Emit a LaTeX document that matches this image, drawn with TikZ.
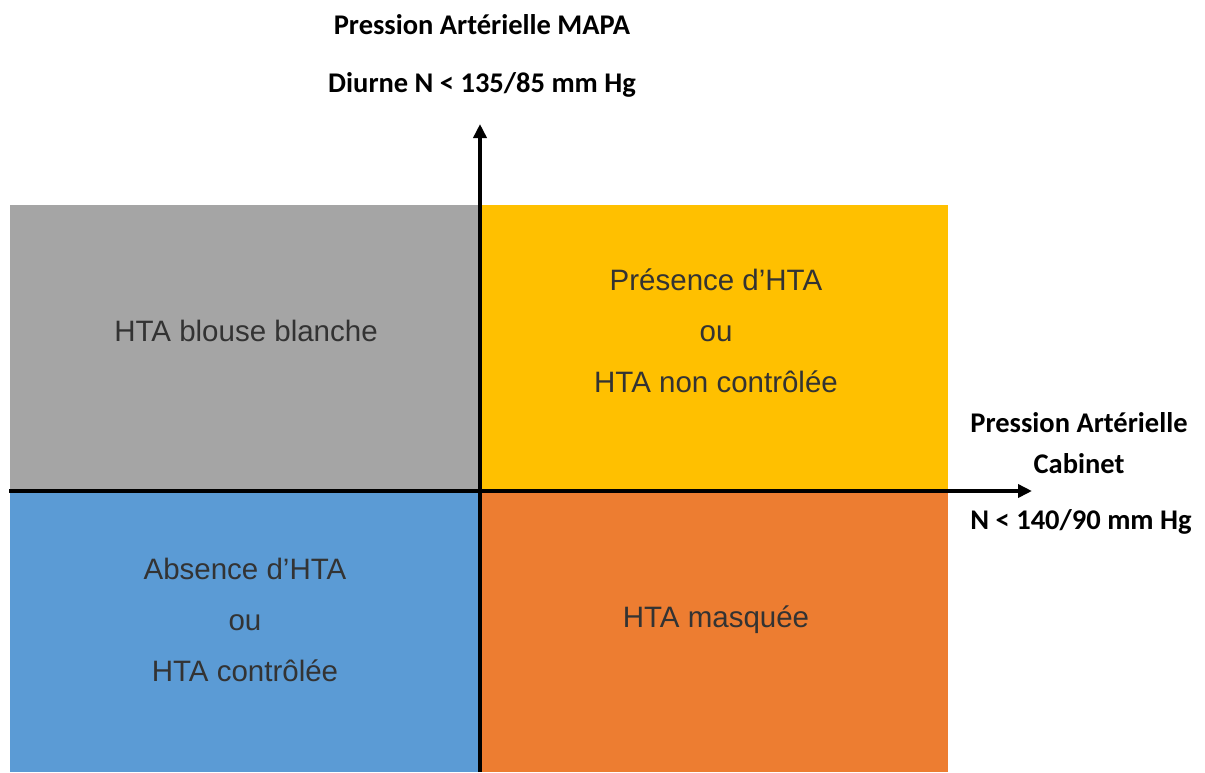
\documentclass[tikz,border=0pt]{standalone}
\usepackage{fontspec}
\setmainfont{Liberation Sans}
\newfontfamily\calibri{Carlito}
\usetikzlibrary{arrows.meta}
\definecolor{grisq}{HTML}{A5A5A5}
\definecolor{jauneq}{HTML}{FFC000}
\definecolor{bleuq}{HTML}{5B9BD5}
\definecolor{orangeq}{HTML}{ED7D31}
\definecolor{texteq}{HTML}{333333}
\tikzset{
  quadtexte/.style={align=center, text=texteq, font=\fontsize{29.5}{51}\selectfont},
  axetexte/.style={align=center, font=\calibri\bfseries\fontsize{28.5}{41}\selectfont},
  axe/.style={line width=3.5pt, -{Triangle[length=14pt,width=13pt]}}
}
\begin{document}
\begin{tikzpicture}[x=1pt,y=-1pt]
    \useasboundingbox (0,0) rectangle (1205,772);
    % Quadrants
    \fill[grisq] (10,205) rectangle (480,491);
    \fill[jauneq] (480,205) rectangle (948,491);
    \fill[bleuq] (10,491) rectangle (480,772);
    \fill[orangeq] (480,491) rectangle (948,772);
    % Textes des quadrants
    \node[quadtexte] (blouse) at (246,331) {HTA blouse blanche};
    \node[quadtexte] (presence) at (716,331) {Présence d’HTA\\ou\\HTA non contrôlée};
    \node[quadtexte] (absence) at (245,620) {Absence d’HTA\\ou\\HTA contrôlée};
    \node[quadtexte] (masquee) at (716,620) {HTA masquée};
    % Axes
    \coordinate (xdeb) at (9,491);
    \coordinate (xfin) at (1032,491);
    \coordinate (ydeb) at (480,772);
    \coordinate (yfin) at (480,124);
    \draw[axe] (xdeb) -- (xfin);
    \draw[axe] (ydeb) -- (yfin);
    % Titres des axes
    \node[axetexte] (mapa) at (482,56) {Pression Artérielle MAPA\\[17pt]Diurne N < 135/85 mm Hg};
    \node[axetexte] (cabinet) at (1079,443) {Pression Artérielle\\Cabinet};
    \node[axetexte] (seuil) at (1081,522) {N < 140/90 mm Hg};
\end{tikzpicture}
\end{document}
